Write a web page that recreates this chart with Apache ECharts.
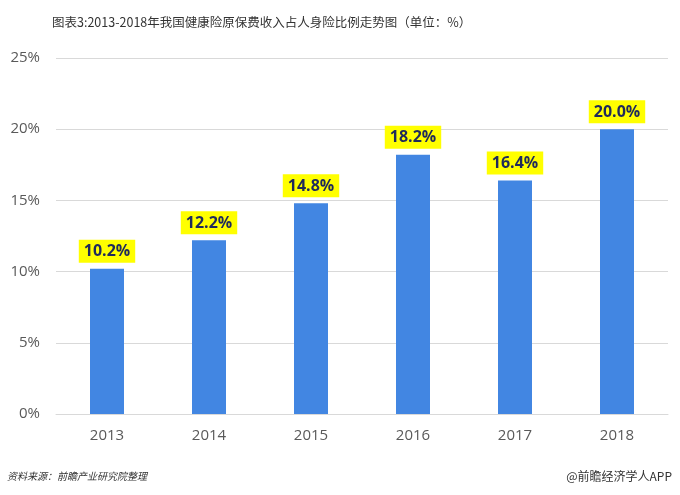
<!DOCTYPE html>
<html><head><meta charset="utf-8">
<script src="https://cdn.jsdelivr.net/npm/echarts@6/dist/echarts.min.js"></script>
<style>html,body{margin:0;padding:0;background:#fff}#c{width:680px;height:495px}</style>
</head><body><div id="c"></div>
<script>
const categories = ['2013','2014','2015','2016','2017','2018'];
const values = [10.2, 12.2, 14.8, 18.2, 16.4, 20.0];
const yTicks = [0,5,10,15,20,25];

const chart = echarts.init(document.getElementById('c'));
chart.setOption({
  animation:false,
  backgroundColor:'#fff',
  title:[{
    text:'图表3:2013-2018年我国健康险原保费收入占人身险比例走势图（单位：%）',
    left:47, top:11,
    textStyle:{fontFamily:'Noto Sans CJK SC',fontSize:12.5,fontWeight:'normal',color:'#333'}
  },{
    text:'资料来源：前瞻产业研究院整理',
    left:2, top:466,
    textStyle:{fontFamily:'Noto Sans CJK SC',fontSize:10,fontWeight:'normal',fontStyle:'italic',color:'#333'}
  },{
    text:'@前瞻经济学人APP',
    right:3, top:465,
    textStyle:{fontFamily:'Noto Sans CJK SC',fontSize:12,fontWeight:'normal',color:'#333'}
  }],
  grid:{left:56, right:12, top:58, bottom:81},
  xAxis:{
    type:'category', data:categories,
    axisLine:{lineStyle:{color:'#d9d9d9'}},
    axisTick:{show:false},
    axisLabel:{color:'#595959',fontSize:15,fontFamily:'Open Sans',margin:14}
  },
  yAxis:{
    type:'value', min:yTicks[0], max:yTicks[yTicks.length-1], interval:5,
    axisLine:{show:false}, axisTick:{show:false},
    splitLine:{lineStyle:{color:'#d9d9d9'}},
    axisLabel:{color:'#595959',fontSize:15,fontFamily:'Open Sans',margin:16,formatter:'{value}%'}
  },
  series:[{
    type:'bar', data:values, barWidth:34,
    itemStyle:{color:'#4286E2'},
    label:{
      show:true, position:'top', distance:6,
      formatter:p=>p.value.toFixed(1)+'%',
      backgroundColor:'#FFFF00', color:'#1F2A5C',
      fontWeight:'bold', fontSize:16, fontFamily:'Open Sans',
      padding:[4,5,3,5]
    }
  }]
});
</script></body></html>
